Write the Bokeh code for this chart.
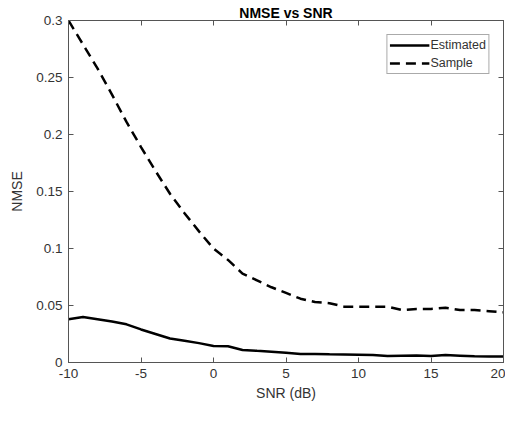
from bokeh.plotting import figure
from bokeh.models import LinearAxis, Range1d, Legend, LegendItem, FixedTicker
from bokeh.embed import file_html
from bokeh.resources import INLINE

snr = list(range(-10, 21))
estimated = [0.038, 0.040, 0.038, 0.036, 0.0335, 0.029, 0.025, 0.021, 0.019, 0.017,
             0.0145, 0.0142, 0.011, 0.0102, 0.0095, 0.0085, 0.0075, 0.0075, 0.0072, 0.007,
             0.0068, 0.0065, 0.0058, 0.006, 0.0062, 0.0058, 0.0065, 0.006, 0.0055, 0.0053, 0.0052]
sample = [0.300, 0.279, 0.258, 0.235, 0.211, 0.189, 0.168, 0.148, 0.131, 0.115,
          0.100, 0.090, 0.078, 0.072, 0.066, 0.061, 0.056, 0.053, 0.052, 0.049,
          0.049, 0.049, 0.049, 0.046, 0.047, 0.047, 0.048, 0.046, 0.046, 0.045, 0.044]
x_ticks = [-10, -5, 0, 5, 10, 15, 20]
x_tick_labels = ["-10", "-5", "0", "5", "10", "15", "20"]
y_ticks = [0, 0.05, 0.1, 0.15, 0.2, 0.25, 0.3]

FONT = "Liberation Sans"
AX = "#555555"
LBL = "#333333"

p = figure(width=505, height=405, output_backend="svg", toolbar_location=None,
           x_range=Range1d(-10, 20), y_range=Range1d(0, 0.3),
           min_border_left=68, min_border_right=2, min_border_top=20, min_border_bottom=43,
           title="NMSE vs SNR")
p.title.align = "center"
p.title.text_font = FONT
p.title.text_font_size = "14px"
p.title.text_font_style = "bold"
p.title.text_color = "#000000"
p.title.standoff = 0

p.grid.visible = False
p.outline_line_color = AX
p.outline_line_width = 1
p.background_fill_color = "white"
p.border_fill_color = "white"

for ax in (p.xaxis[0], p.yaxis[0]):
    ax.axis_line_color = AX
    ax.major_tick_line_color = AX
    ax.major_tick_in = 5
    ax.major_tick_out = 0
    ax.minor_tick_line_color = None
    ax.major_label_text_font = FONT
    ax.major_label_text_font_size = "13.5px"
    ax.major_label_text_color = LBL
    ax.axis_label_text_font = FONT
    ax.axis_label_text_font_size = "14px"
    ax.axis_label_text_font_style = "normal"
    ax.axis_label_text_color = LBL

p.xaxis[0].ticker = FixedTicker(ticks=x_ticks)
p.xaxis[0].major_label_overrides = {t: s for t, s in zip(x_ticks, x_tick_labels)}
p.yaxis[0].ticker = FixedTicker(ticks=y_ticks)
p.xaxis[0].axis_label = "SNR (dB)"
p.yaxis[0].axis_label = "NMSE"
p.xaxis[0].major_label_standoff = 6
p.yaxis[0].major_label_standoff = 6
p.xaxis[0].axis_label_standoff = 4
p.yaxis[0].axis_label_standoff = 8

top = LinearAxis(ticker=FixedTicker(ticks=x_ticks), major_label_text_color=None,
                 major_tick_in=5, major_tick_out=0, minor_tick_line_color=None,
                 axis_line_color=AX, major_tick_line_color=AX, major_label_text_font_size="1px",
                 major_label_standoff=0)
right = LinearAxis(ticker=FixedTicker(ticks=y_ticks), major_label_text_color=None,
                   major_tick_in=5, major_tick_out=0, minor_tick_line_color=None,
                   axis_line_color=AX, major_tick_line_color=AX, major_label_text_font_size="1px",
                   major_label_standoff=0)
p.add_layout(top, "above")
p.add_layout(right, "right")

r1 = p.line(snr, estimated, line_color="black", line_width=2.5)
r2 = p.line(snr, sample, line_color="black", line_width=2.5, line_dash="10 6")

legend = Legend(items=[LegendItem(label="Estimated", renderers=[r1]),
                       LegendItem(label="Sample", renderers=[r2])],
                location="top_right")
legend.label_text_font = FONT
legend.label_text_font_size = "12.5px"
legend.label_text_color = LBL
legend.glyph_width = 40
legend.glyph_height = 16
legend.label_standoff = 1
legend.spacing = 2
legend.padding = 2
legend.margin = 14
legend.border_line_color = AX
legend.border_line_width = 1
legend.label_height = 16
p.add_layout(legend)

open("out.html", "w").write(file_html(p, INLINE))
